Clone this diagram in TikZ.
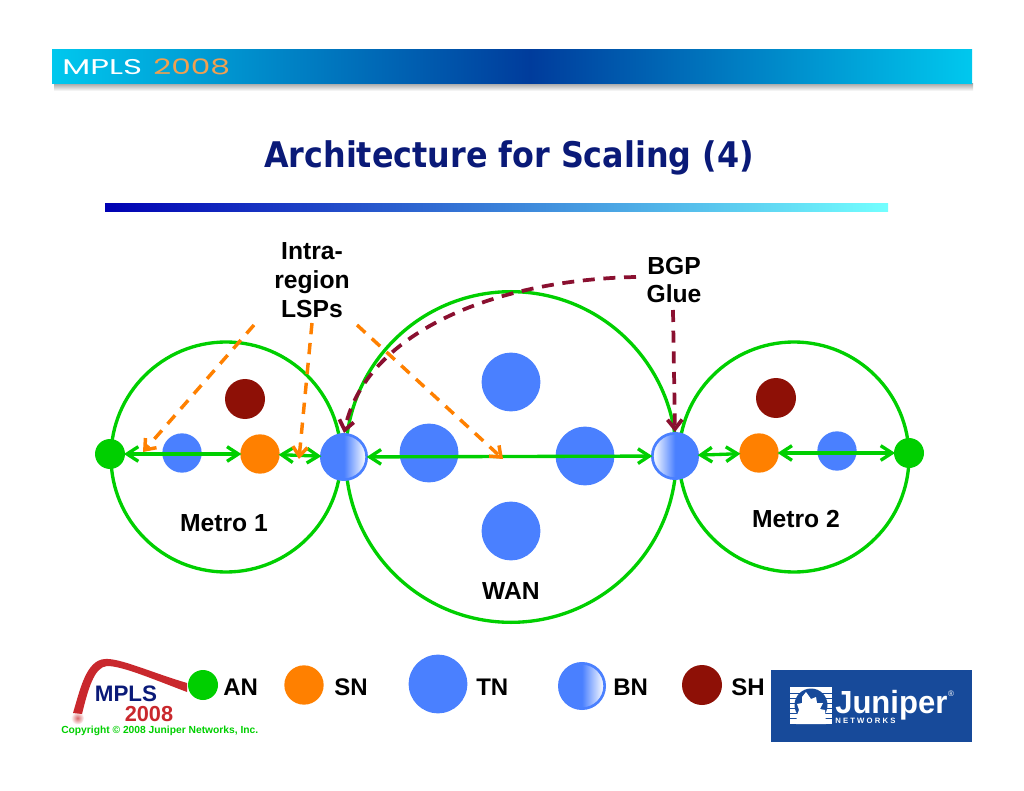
\documentclass[tikz,border=0pt]{standalone}
\usepackage{fontspec}
\setmainfont{Liberation Sans}
\newfontfamily\verd{DejaVu Sans}
\newfontfamily\hdr{Poppins}
\usetikzlibrary{arrows.meta,shadings}
\definecolor{gr}{HTML}{00CF00}
\definecolor{og}{HTML}{FF8000}
\definecolor{tb}{HTML}{4A80FF}
\definecolor{sh}{HTML}{8E1006}
\definecolor{dr}{HTML}{8A1030}
\definecolor{navy}{HTML}{0A1A78}
\definecolor{jb}{HTML}{174A9A}
\definecolor{cy}{HTML}{00C8EE}
\definecolor{db}{HTML}{003C9C}
\definecolor{lr}{HTML}{C9282D}
\definecolor{hy}{HTML}{F0A050}
\pgfdeclarehorizontalshading{bnright}{100bp}{color(0bp)=(tb);color(50bp)=(tb);color(72bp)=(tb!10!white);color(100bp)=(white)}
\pgfdeclarehorizontalshading{bnleft}{100bp}{color(0bp)=(white);color(28bp)=(tb!10!white);color(50bp)=(tb);color(100bp)=(tb)}
\tikzset{
  region/.style={circle,draw=gr,line width=2.5pt,inner sep=0,fill=none},
  dotbase/.style={circle,inner sep=0},
  an/.style={dotbase,fill=gr,minimum size=22.5pt},
  sn/.style={dotbase,fill=og,minimum size=29.5pt},
  shn/.style={dotbase,fill=sh,minimum size=30pt},
  tns/.style={dotbase,fill=tb,minimum size=29.5pt},
  tn/.style={dotbase,fill=tb,minimum size=44pt},
  bnr/.style={dotbase,draw=tb,line width=2pt,shading=bnright,minimum size=34pt},
  bnl/.style={dotbase,draw=tb,line width=2pt,shading=bnleft,minimum size=34pt},
  link/.style={draw=gr,line width=2.5pt,{Straight Barb[length=8.5pt,width=11pt,line width=2.5pt]}-{Straight Barb[length=8.5pt,width=11pt,line width=2.5pt]},shorten <=-1pt,shorten >=-1pt},
  ordash/.style={draw=og,line width=2.6pt,dash pattern=on 8.5pt off 6.5pt,-{Straight Barb[length=7pt,width=11pt,line width=2.6pt]}},
  rdash/.style={draw=dr,line width=2.8pt,dash pattern=on 9pt off 6.5pt,-{Straight Barb[length=7pt,width=11pt,line width=2.8pt]}},
  lbl/.style={font=\fontsize{18.5}{20}\selectfont\bfseries,inner sep=0,align=center,text=black},
  leg/.style={font=\fontsize{18}{20}\selectfont\bfseries,inner sep=0,text=black},
}
\begin{document}
\begin{tikzpicture}[x=0.75pt,y=-0.75pt]
\useasboundingbox (0,0) rectangle (1024,791);
% header
\shade[top color=black!32,bottom color=white] (54,84) rectangle (973,91);
\shade[left color=cy,right color=db] (52,50) rectangle (530,84);
\shade[left color=db,right color=cy] (530,50) rectangle (972,84);
\node[text=white,inner sep=0,anchor=base west,font=\hdr\fontsize{16}{16}\selectfont,xscale=1.52] (h1) at (62,75) {MPLS};
\node[inner sep=0,anchor=base west,text=hy,font=\hdr\fontsize{16}{16}\selectfont,xscale=1.46] (h2) at (153,75) {2008};
\node[inner sep=0,anchor=base,text=navy,font=\verd\fontsize{26.5}{28}\selectfont\bfseries,xscale=0.9] (title) at (509,168) {Architecture for Scaling (4)};
\shade[left color=blue!70!black,right color=cyan!55!white] (105,204) rectangle (888,212);
% regions
\node[region,minimum size=172.5pt] (metroA) at (226,457) {};
\node[region,minimum size=248pt] (wan) at (511,457) {};
\node[region,minimum size=172.5pt] (metroB) at (794,457) {};
% nodes
\node[an] (an1) at (110,454) {};
\node[tns] (t1) at (182,453) {};
\node[sn] (sn1) at (260,454) {};
\node[shn] (sh1) at (245,399) {};
\node[bnr] (bn1) at (344,457) {};
\node[tn] (t2) at (429,453) {};
\node[tn] (t3) at (511,382) {};
\node[tn] (t4) at (585,456) {};
\node[tn] (t5) at (511,531) {};
\node[bnl] (bn2) at (675,456) {};
\node[sn] (sn2) at (759,453) {};
\node[tns] (t6) at (837,451) {};
\node[an] (an2) at (909,453) {};
\node[shn] (sh2) at (776,398) {};
% links
\draw[link] (an1) -- (sn1);
\draw[link] (sn1) -- (bn1);
\draw[link] (bn1) -- (bn2);
\draw[link] (bn2) -- (sn2);
\draw[link] (sn2) -- (an2);
% labels
\node[lbl] (intra) at (312,280) {Intra-\\[1.5pt]region\\[1.5pt]LSPs};
\node[lbl] (glue) at (674,280) {BGP\\[1.5pt]Glue};
\node[lbl] (m1) at (224,523) {Metro 1};
\node[lbl] (m2) at (796,519) {Metro 2};
\node[lbl] (w) at (511,591) {WAN};
% dashed callouts
\coordinate (e1) at (143,452);
\coordinate (e2) at (299,459);
\coordinate (e3) at (503,459);
\coordinate (s1) at (254,325);
\coordinate (s2) at (312,323);
\coordinate (s3) at (357,325);
\draw[ordash] (s1) -- (e1);
\draw[ordash] (s2) -- (e2);
\draw[ordash] (s3) -- (e3);
\coordinate (s4) at (636,277);
\coordinate (s5) at (673,310);
\draw[rdash] (s4) .. controls (490,280) and (365,335) .. (bn1.north);
\draw[rdash] (s5) -- (bn2.north);
% legend
\node[an] (la) at (203,685) {};
\node[leg,anchor=west] at (223,687) {AN};
\node[sn] (ls) at (304,685) {};
\node[leg,anchor=west] at (334,687) {SN};
\node[tn] (lt) at (438,684) {};
\node[leg,anchor=west] at (476,687) {TN};
\node[bnr] (lb) at (582,686) {};
\node[leg,anchor=west] at (613,687) {BN};
\node[shn] (lh) at (702,685) {};
\node[leg,anchor=west] at (731,687) {SH};
% MPLS 2008 logo
\shade[inner color=lr!70!white,outer color=white] (77.5,718) circle (6.5);
\fill[lr] (73,713) .. controls (80,690) and (86,660) .. (105,659) .. controls (120,658) and (150,672) .. (187,683) -- (187,692) .. controls (150,678) and (122,666) .. (107,666) .. controls (94,667) and (88,690) .. (82,714) -- cycle;
\node[inner sep=0,text=navy,font=\fontsize{16.8}{18}\selectfont\bfseries] (lm) at (126,694) {MPLS};
\node[inner sep=0,text=lr,font=\fontsize{16.3}{18}\selectfont\bfseries] (ly) at (149,714) {2008};
\node[inner sep=0,anchor=west,text=gr,font=\fontsize{7.7}{9}\selectfont\bfseries] (cr) at (61,731) {Copyright © 2008 Juniper Networks, Inc.};
% Juniper logo
\fill[jb] (771,670) rectangle (972,742);
\fill[white] (790,687) rectangle (832,724);
\foreach \yy in {692.5,697.5,702.5,707.5,712.5,717.5} \fill[jb] (790,\yy) rectangle (832,\yy+1.3);
\fill[jb] (811,705) circle (16.5);
\fill[white] (806,692) -- (811,699) -- (816,697) -- (817,703) -- (823,703) -- (820,709) -- (825,710) -- (826,724) -- (796,724) -- (797,715) -- (799,710) -- (797,704) -- (802,703) -- (802,697) -- cycle;
\node[inner sep=0,anchor=base west,text=white,font=\fontsize{24}{26}\selectfont\bfseries,xscale=0.97] (jn) at (835,713) {Juniper};
\node[inner sep=0,anchor=base west,text=white,font=\fontsize{5.8}{7}\selectfont\bfseries] (nw) at (835,723) {N E T W O R K S};
\node[inner sep=0,text=white,font=\fontsize{6}{8}\selectfont] (rg) at (951,694) {®};
\end{tikzpicture}
\end{document}
